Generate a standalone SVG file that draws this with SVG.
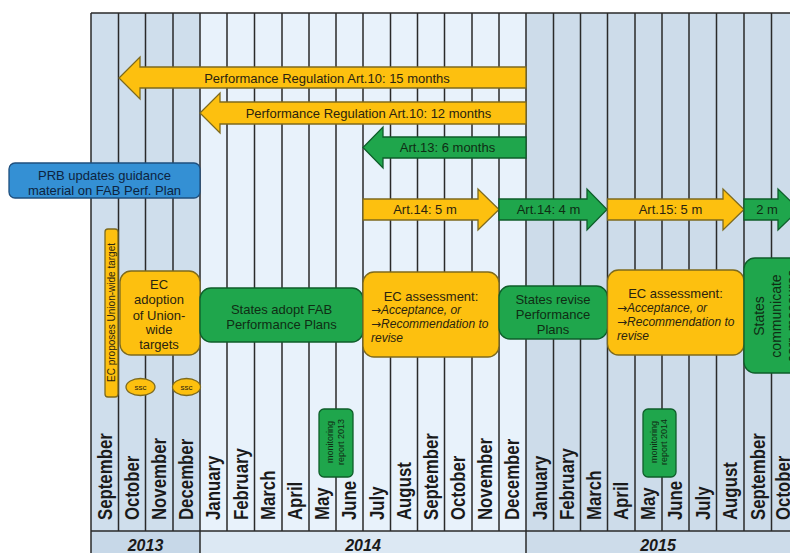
<svg xmlns="http://www.w3.org/2000/svg" width="790" height="553" viewBox="0 0 790 553">
<defs>
<style>
.bg{fill:#ffffff}
.c13{fill:#cfdeec}
.c14{fill:#e8f2fb}
.c15{fill:#cddcea}
.grid{stroke:#2a2a2a;stroke-width:1.5;fill:none}
.mon{font-family:"Liberation Sans",Arial,sans-serif;font-weight:bold;font-size:20px;fill:#1a1a1a}
.yr{font-family:"Liberation Sans",Arial,sans-serif;font-weight:bold;font-style:italic;font-size:16px;fill:#1a1a1a;text-anchor:middle}
.yel{fill:#fdc00f;stroke:#7d6a1e;stroke-width:1.3}
.grn{fill:#1fa64c;stroke:#0e5e2a;stroke-width:1.3}
.blu{fill:#3490d4;stroke:#1e4f7e;stroke-width:1.3}
.t{font-family:"Liberation Sans",Arial,sans-serif;font-size:13px;fill:#2a2410}
.tg{font-family:"Liberation Sans",Arial,sans-serif;font-size:13px;fill:#0f2d14}
.tc{text-anchor:middle}
.ti{font-family:"Liberation Sans",Arial,sans-serif;font-style:italic;font-size:12px;fill:#2a2410}
.ar{font-family:"DejaVu Sans",sans-serif;font-style:normal}
</style>
</defs>
<rect class="bg" x="0" y="0" width="790" height="553"/>
<g id="grid">
<rect class="c13" x="91" y="13" width="109" height="518"/>
<rect class="c14" x="200" y="13" width="326" height="518"/>
<rect class="c15" x="526" y="13" width="264" height="518"/>
<rect x="91" y="531" width="109" height="22" fill="#c7d8e8"/>
<rect x="200" y="531" width="326" height="22" fill="#dce8f3"/>
<rect x="526" y="531" width="264" height="22" fill="#cddcea"/>
<path class="grid" d="M91,13H790 M91,13V553 M118.5,13V531 M145.5,13V531 M173,13V531 M200,13V553 M227,13V531 M254.5,13V531 M282,13V531 M309,13V531 M336,13V531 M363,13V531 M390.5,13V531 M417.5,13V531 M444.5,13V531 M472,13V531 M499,13V531 M526,13V553 M553.5,13V531 M580.5,13V531 M607.5,13V531 M635,13V531 M662,13V531 M689,13V531 M716.5,13V531 M744,13V531 M771.5,13V531 M91,531H790"/>
</g>
<g id="months">
<text class="mon" transform="translate(111.5,520) rotate(-90) scale(0.84,1)">September</text>
<text class="mon" transform="translate(138.5,520) rotate(-90) scale(0.84,1)">October</text>
<text class="mon" transform="translate(166,520) rotate(-90) scale(0.84,1)">November</text>
<text class="mon" transform="translate(193,520) rotate(-90) scale(0.84,1)">December</text>
<text class="mon" transform="translate(220,520) rotate(-90) scale(0.84,1)">January</text>
<text class="mon" transform="translate(247.5,520) rotate(-90) scale(0.84,1)">February</text>
<text class="mon" transform="translate(275,520) rotate(-90) scale(0.84,1)">March</text>
<text class="mon" transform="translate(302,520) rotate(-90) scale(0.84,1)">April</text>
<text class="mon" transform="translate(329,520) rotate(-90) scale(0.84,1)">May</text>
<text class="mon" transform="translate(356,520) rotate(-90) scale(0.84,1)">June</text>
<text class="mon" transform="translate(383.5,520) rotate(-90) scale(0.84,1)">July</text>
<text class="mon" transform="translate(410.5,520) rotate(-90) scale(0.84,1)">August</text>
<text class="mon" transform="translate(437.5,520) rotate(-90) scale(0.84,1)">September</text>
<text class="mon" transform="translate(465,520) rotate(-90) scale(0.84,1)">October</text>
<text class="mon" transform="translate(492,520) rotate(-90) scale(0.84,1)">November</text>
<text class="mon" transform="translate(519,520) rotate(-90) scale(0.84,1)">December</text>
<text class="mon" transform="translate(546.5,520) rotate(-90) scale(0.84,1)">January</text>
<text class="mon" transform="translate(573.5,520) rotate(-90) scale(0.84,1)">February</text>
<text class="mon" transform="translate(600.5,520) rotate(-90) scale(0.84,1)">March</text>
<text class="mon" transform="translate(628,520) rotate(-90) scale(0.84,1)">April</text>
<text class="mon" transform="translate(655,520) rotate(-90) scale(0.84,1)">May</text>
<text class="mon" transform="translate(682,520) rotate(-90) scale(0.84,1)">June</text>
<text class="mon" transform="translate(709.5,520) rotate(-90) scale(0.84,1)">July</text>
<text class="mon" transform="translate(736.5,520) rotate(-90) scale(0.84,1)">August</text>
<text class="mon" transform="translate(764.5,520) rotate(-90) scale(0.84,1)">September</text>
<text class="mon" transform="translate(790,520) rotate(-90) scale(0.84,1)">October</text>
</g>
<g id="years">
<text class="yr" x="145.5" y="551">2013</text>
<text class="yr" x="363" y="551">2014</text>
<text class="yr" x="658" y="551">2015</text>
</g>
<g id="connectors">
<g id="art10-15">
<path class="yel" d="M526,67H140V57L119,78L140,99V88H526Z"/>
<text class="t tc" x="327" y="82.5">Performance Regulation Art.10: 15 months</text>
</g>
<g id="art10-12">
<path class="yel" d="M526,102H220V93L200,113L220,133V124H526Z"/>
<text class="t tc" x="368.5" y="117.5">Performance Regulation Art.10: 12 months</text>
</g>
<g id="art13">
<path class="grn" d="M526,137H383V127L363,147.5L383,168V158H526Z"/>
<text class="tg tc" x="447.5" y="152">Art.13: 6 months</text>
</g>
<g id="art14a">
<path class="yel" d="M363,199H478V189L499,209.5L478,230V220H363Z"/>
<text class="t tc" x="425" y="214">Art.14: 5 m</text>
</g>
<g id="art14b">
<path class="grn" d="M499,199H587V189L607,209.5L587,230V220H499Z"/>
<text class="tg tc" x="548.5" y="214">Art.14: 4 m</text>
</g>
<g id="art15">
<path class="yel" d="M607.5,199H723V189L744,209.5L723,230V220H607.5Z"/>
<text class="t tc" x="670.5" y="214">Art.15: 5 m</text>
</g>
<g id="art2m">
<path class="grn" d="M744,199H778V189L799,209.5L778,230V220H744Z"/>
<text class="tg tc" x="767" y="214">2 m</text>
</g>
</g>
<g id="prb">
<rect class="blu" x="9" y="163" width="191" height="35" rx="6"/>
<text class="t tc" x="104.5" y="179.5" style="fill:#0d2440">PRB updates guidance</text>
<text class="t tc" x="104.5" y="194.5" style="fill:#0d2440">material on FAB Perf. Plan</text>
</g>
<g id="ec-proposes">
<rect class="yel" x="105" y="229" width="13" height="168" rx="3"/>
<text class="t tc" style="font-size:10px" transform="translate(115,312.5) rotate(-90)">EC proposes Union-wide target</text>
</g>
<g id="ec-adoption">
<rect class="yel" x="120" y="271" width="80" height="84" rx="11"/>
<text class="t tc" x="159" y="289">EC</text>
<text class="t tc" x="159" y="304">adoption</text>
<text class="t tc" x="159" y="319.5">of Union-</text>
<text class="t tc" x="159" y="334">wide</text>
<text class="t tc" x="159" y="349">targets</text>
</g>
<g id="ssc1">
<ellipse class="yel" cx="140.5" cy="387" rx="14.5" ry="8.5"/>
<text class="t tc" style="font-size:8px" x="140.5" y="390">ssc</text>
</g>
<g id="ssc2">
<ellipse class="yel" cx="186.5" cy="387" rx="14" ry="8.5"/>
<text class="t tc" style="font-size:8px" x="186.5" y="390">ssc</text>
</g>
<g id="states-adopt">
<rect class="grn" x="200" y="288" width="163" height="54" rx="11"/>
<text class="tg tc" x="281.5" y="313.5">States adopt FAB</text>
<text class="tg tc" x="281.5" y="328.5">Performance Plans</text>
</g>
<g id="ec-assessment-1">
<rect class="yel" x="363" y="272" width="136" height="85" rx="11"/>
<text class="t tc" x="431" y="300.5">EC assessment:</text>
<text class="ti" x="371" y="313.5"><tspan class="ar">→</tspan>Acceptance, or</text>
<text class="ti" x="371" y="328"><tspan class="ar">→</tspan>Recommendation to</text>
<text class="ti" x="371" y="341.5">revise</text>
</g>
<g id="states-revise">
<rect class="grn" x="499" y="286" width="108.5" height="53" rx="11"/>
<text class="tg tc" x="553" y="304">States revise</text>
<text class="tg tc" x="553" y="318.5">Performance</text>
<text class="tg tc" x="553" y="333.5">Plans</text>
</g>
<g id="ec-assessment-2">
<rect class="yel" x="607.5" y="270" width="136.5" height="85" rx="11"/>
<text class="t tc" x="675.5" y="297.5">EC assessment:</text>
<text class="ti" x="617" y="311.5"><tspan class="ar">→</tspan>Acceptance, or</text>
<text class="ti" x="617" y="325.5"><tspan class="ar">→</tspan>Recommendation to</text>
<text class="ti" x="617" y="339.5">revise</text>
</g>
<g id="states-communicate">
<rect class="grn" x="744" y="258" width="60" height="115" rx="11"/>
<text class="tg tc" style="font-size:14px" transform="translate(764,316) rotate(-90)">States</text>
<text class="tg tc" style="font-size:14px" transform="translate(781,316) rotate(-90)">communicate</text>
<text class="tg tc" style="font-size:14px" transform="translate(797,316) rotate(-90)">corr. measures</text>
</g>
<g id="monitoring-2013">
<rect class="grn" x="319" y="409" width="34" height="68" rx="5"/>
<text class="tg tc" style="font-size:9px" transform="translate(333,442) rotate(-90)">monitoring</text>
<text class="tg tc" style="font-size:9px" transform="translate(343.5,442) rotate(-90)">report 2013</text>
</g>
<g id="monitoring-2014">
<rect class="grn" x="643" y="409" width="33" height="68" rx="5"/>
<text class="tg tc" style="font-size:9px" transform="translate(657,442) rotate(-90)">monitoring</text>
<text class="tg tc" style="font-size:9px" transform="translate(666.5,442) rotate(-90)">report 2014</text>
</g>
</svg>
